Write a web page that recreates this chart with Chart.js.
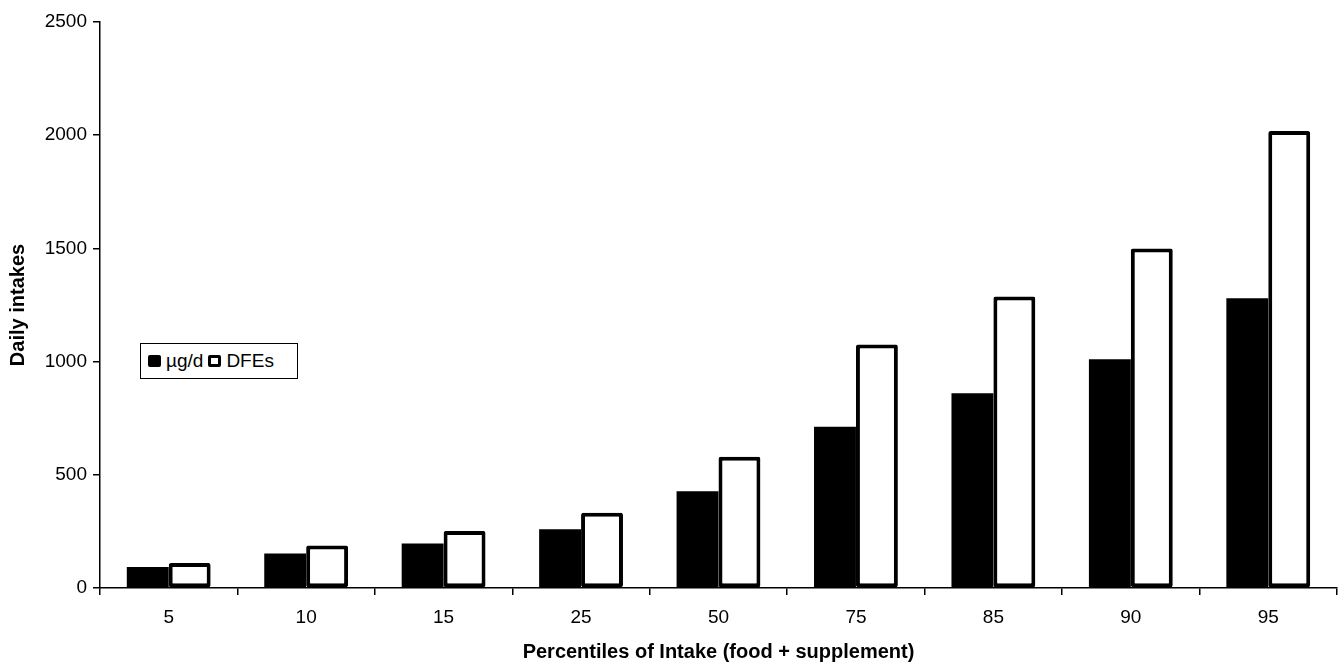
<!DOCTYPE html>
<html>
<head>
<meta charset="utf-8">
<script src="https://cdn.jsdelivr.net/npm/chart.js@4/dist/chart.umd.min.js"></script>
<style>
  html, body { margin: 0; padding: 0; background: #fff; }
  #wrap { position: relative; width: 1344px; height: 665px; }
  #legend {
    position: absolute; left: 140px; top: 343px; width: 158px; height: 36px;
    border: 1.5px solid #000; box-sizing: border-box; background: #fff;
    font-family: "Liberation Sans", Arial, sans-serif; font-size: 19px; color: #000;
    display: flex; align-items: center; padding-left: 7px; white-space: nowrap;
  }
  .sw { display: inline-block; width: 13px; height: 12px; box-sizing: border-box; margin-right: 5px; border-radius: 2px; }
  .item { display: inline-flex; align-items: center; margin-right: 5px; }
</style>
</head>
<body>
<div id="wrap">
  <canvas id="c" width="1344" height="665"></canvas>
  <div id="legend"></div>
</div>
<script>
const categories = ["5", "10", "15", "25", "50", "75", "85", "90", "95"];
const seriesNames = ["\u00b5g/d", "DFEs"];
const microgramsPerDay = [93, 152, 197, 260, 427, 712, 860, 1010, 1280];
const dfes = [110, 188, 252, 332, 580, 1075, 1288, 1500, 2018];
const yTicks = [0, 500, 1000, 1500, 2000, 2500];
const xTitle = "Percentiles of Intake (food + supplement)";
const yTitle = "Daily intakes";

const FONT = '"Liberation Sans", Arial, sans-serif';

const ctx = document.getElementById('c').getContext('2d');
const chart = new Chart(ctx, {
  type: 'bar',
  data: {
    labels: categories,
    datasets: [
      {
        label: seriesNames[0],
        data: microgramsPerDay,
        backgroundColor: '#000',
        borderColor: '#000',
        borderWidth: 0,
        categoryPercentage: 0.61,
        barPercentage: 1.0
      },
      {
        label: seriesNames[1],
        data: dfes,
        backgroundColor: '#fff',
        borderColor: '#000',
        borderWidth: 4,
        borderSkipped: false,
        borderRadius: 2,
        categoryPercentage: 0.61,
        barPercentage: 1.0
      }
    ]
  },
  options: {
    responsive: false,
    animation: false,
    devicePixelRatio: 1,
    layout: { padding: { top: 22, right: 7, left: 0, bottom: 0 } },
    plugins: {
      legend: { display: false },
      tooltip: { enabled: false }
    },
    scales: {
      x: {
        offset: true,
        grid: {
          display: true,
          offset: true,
          drawOnChartArea: false,
          drawTicks: true,
          tickLength: 7,
          color: '#000',
          lineWidth: 1.5
        },
        border: { display: true, color: '#000', width: 1.5 },
        ticks: {
          color: '#000',
          font: { family: FONT, size: 19 },
          padding: 11,
          maxRotation: 0
        },
        title: {
          display: true,
          text: xTitle,
          color: '#000',
          font: { family: FONT, size: 20, weight: 'bold' },
          padding: { top: 6, bottom: 1 }
        },
        afterFit(scale) { scale.height = 77; }
      },
      y: {
        min: 0,
        max: 2500,
        afterBuildTicks(scale) { scale.ticks = yTicks.map(v => ({ value: v })); },
        grid: {
          display: true,
          drawOnChartArea: false,
          drawTicks: true,
          tickLength: 7,
          color: '#000',
          lineWidth: 1.5
        },
        border: { display: true, color: '#000', width: 1.5 },
        ticks: {
          color: '#000',
          font: { family: FONT, size: 19 },
          padding: 6,
          callback: (v) => String(v)
        },
        title: {
          display: true,
          text: yTitle,
          color: '#000',
          font: { family: FONT, size: 20, weight: 'bold' },
          padding: { top: 6, bottom: 10 }
        },
        afterFit(scale) { scale.width = 100; }
      }
    }
  }
});

// HTML legend built from dataset definitions
const legendEl = document.getElementById('legend');
chart.data.datasets.forEach(ds => {
  const item = document.createElement('span');
  item.className = 'item';
  const sw = document.createElement('span');
  sw.className = 'sw';
  sw.style.background = ds.backgroundColor;
  if (ds.borderWidth) sw.style.border = '3px solid ' + ds.borderColor;
  const t = document.createElement('span');
  t.textContent = ds.label;
  item.appendChild(sw);
  item.appendChild(t);
  legendEl.appendChild(item);
});
</script>
</body>
</html>
